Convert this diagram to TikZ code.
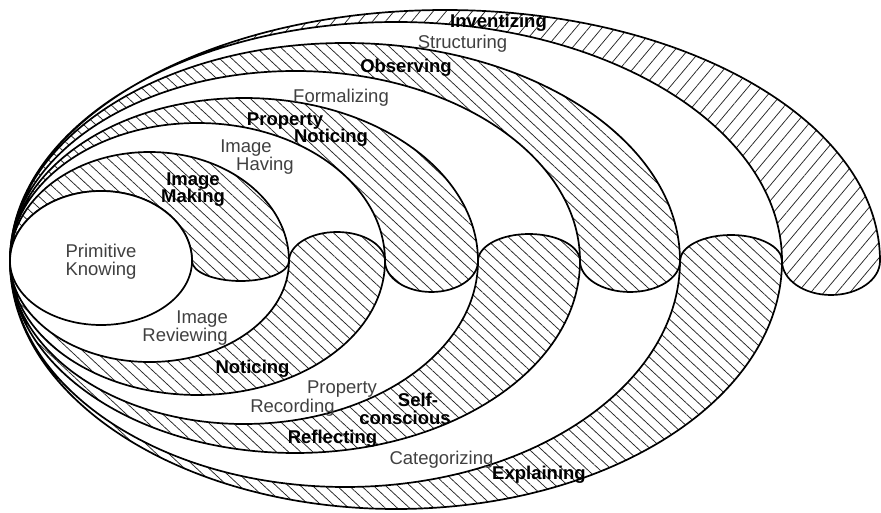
\documentclass[tikz,border=0pt]{standalone}
\usepackage{fontspec}
\setmainfont{Liberation Sans}
\usetikzlibrary{patterns.meta}
\begin{document}
\begin{tikzpicture}[x=1pt,y=1pt,
  outline/.style={draw=black,line width=1.7pt,line join=round},
  hatchnw/.style={outline,pattern={Lines[angle=-43,distance=8.3pt,line width=0.75pt]},pattern color=black!85},
  hatchne/.style={outline,pattern={Lines[angle=50,distance=10pt,line width=0.75pt]},pattern color=black!85},
  lbl/.style={font=\fontsize{18.5}{22}\selectfont,text=black!75,inner sep=0pt,anchor=base},
  blbl/.style={font=\fontsize{18.5}{22}\selectfont\bfseries,text=black,inner sep=0pt,anchor=base}]
\def\cy{251}
\useasboundingbox (0,0) rectangle (881,512);
% upper hatched bands (outer arc, inner arc, lower bump)
\path[hatchnw] (289,\cy) arc[start angle=0,end angle=180,x radius=139.5pt,y radius=109pt]
  arc[start angle=180,end angle=0,x radius=91pt,y radius=70pt]
  arc[start angle=180,end angle=360,x radius=48.5pt,y radius=20pt] -- cycle;
\path[hatchnw] (478,\cy) arc[start angle=0,end angle=180,x radius=234pt,y radius=163pt]
  arc[start angle=180,end angle=0,x radius=187.5pt,y radius=138pt]
  arc[start angle=180,end angle=360,x radius=46.5pt,y radius=31pt] -- cycle;
\path[hatchnw] (680,\cy) arc[start angle=0,end angle=180,x radius=335pt,y radius=218pt]
  arc[start angle=180,end angle=0,x radius=285pt,y radius=190pt]
  arc[start angle=180,end angle=360,x radius=50pt,y radius=31pt] -- cycle;
\path[hatchne] (880,\cy) arc[start angle=0,end angle=180,x radius=435pt,y radius=251pt]
  arc[start angle=180,end angle=0,x radius=386pt,y radius=239pt]
  arc[start angle=180,end angle=360,x radius=49pt,y radius=34pt] -- cycle;
% lower hatched bands (outer arc, upper bump, inner arc)
\path[hatchnw] (10,\cy) arc[start angle=180,end angle=360,x radius=187.5pt,y radius=134pt]
  arc[start angle=0,end angle=180,x radius=48pt,y radius=29pt]
  arc[start angle=0,end angle=-180,x radius=139.5pt,y radius=101pt] -- cycle;
\path[hatchnw] (10,\cy) arc[start angle=180,end angle=360,x radius=285pt,y radius=192pt]
  arc[start angle=0,end angle=180,x radius=51pt,y radius=27pt]
  arc[start angle=0,end angle=-180,x radius=234pt,y radius=163pt] -- cycle;
\path[hatchnw] (10,\cy) arc[start angle=180,end angle=360,x radius=386pt,y radius=248pt]
  arc[start angle=0,end angle=180,x radius=51pt,y radius=26pt]
  arc[start angle=0,end angle=-180,x radius=335pt,y radius=226pt] -- cycle;
% primitive knowing
\path[outline,fill=white] (192,\cy) arc[start angle=0,end angle=180,x radius=91pt,y radius=70pt]
  arc[start angle=180,end angle=360,x radius=91pt,y radius=64pt] -- cycle;
% labels
\node[lbl] (pk1) at (101,254) {Primitive};
\node[lbl] (pk2) at (101,236) {Knowing};
\node[blbl] (im1) at (193,326) {Image};
\node[blbl] (im2) at (193,309) {Making};
\node[lbl] (ih1) at (246,359) {Image};
\node[lbl] (ih2) at (265,341) {Having};
\node[blbl] (pn1) at (285,386) {Property};
\node[blbl] (pn2) at (331,369) {Noticing};
\node[lbl] (fo) at (341,409) {Formalizing};
\node[blbl] (ob) at (406,439) {Observing};
\node[lbl] (st) at (462.5,463) {Structuring};
\node[blbl] (in) at (498.5,484) {Inventizing};
\node[lbl,anchor=base east] (ir1) at (228,189) {Image};
\node[lbl,anchor=base east] (ir2) at (228,171) {Reviewing};
\node[blbl] (no) at (252.5,139) {Noticing};
\node[lbl] (pr1) at (342,119) {Property};
\node[lbl] (pr2) at (292.5,100) {Recording};
\node[blbl] (sc1) at (418,106) {Self-};
\node[blbl] (sc2) at (405,88) {conscious};
\node[blbl] (re) at (332.5,69) {Reflecting};
\node[lbl] (ca) at (441.5,48) {Categorizing};
\node[blbl] (ex) at (539,33) {Explaining};
\end{tikzpicture}
\end{document}
